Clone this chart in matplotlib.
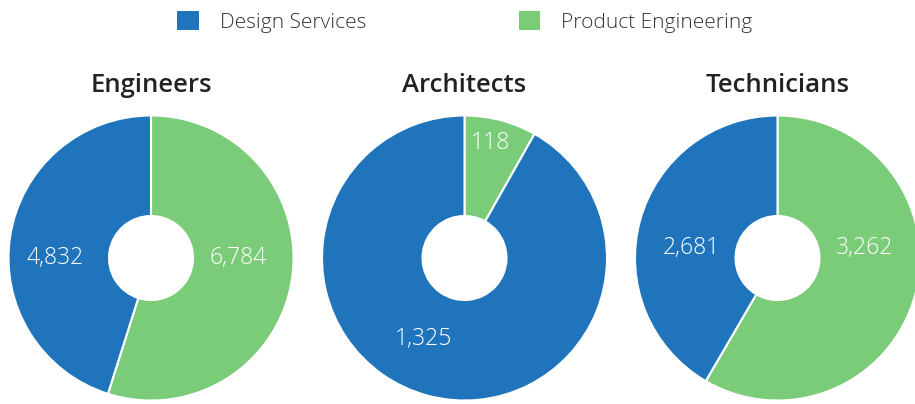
import matplotlib.pyplot as plt

groups = ['Engineers', 'Architects', 'Technicians']
series = ['Product Engineering', 'Design Services']
product_eng = [6784, 118, 3262]
design_svc = [4832, 1325, 2681]
# the arcs in the source picture don't follow the printed numbers for the
# two outer charts (they look swapped), so slice sizes are kept separately
arc_product = [3262, 118, 6784]
arc_design = [2681, 1325, 4832]

colors = ['#7BCC78', '#1F74BC']

W, H = 915, 404
fig = plt.figure(figsize=(W / 100, H / 100), dpi=100)
ax = fig.add_axes([0, 0, 1, 1])

centers_x = [151, 464.5, 777.5]
cy = H - 258
radius = 142.5
hole = 42

# label offsets (px from centre, y down)
label_pos = [[(87, 0), (-96, 0)], [(26, -115), (-41, 81)], [(87, -10), (-86, -10)]]

wedges_all = []
for i, g in enumerate(groups):
    wedges, _ = ax.pie([arc_product[i], arc_design[i]], colors=colors, startangle=90,
                       counterclock=False, center=(centers_x[i], cy), radius=radius,
                       wedgeprops=dict(width=radius - hole, edgecolor='white', linewidth=1.5))
    wedges_all.append(wedges)
    texts = [f'{product_eng[i]:,}', f'{design_svc[i]:,}']
    for j in range(2):
        dx, dy = label_pos[i][j]
        ax.text(centers_x[i] + dx, cy - dy, texts[j], color='white',
                fontsize=16.5, fontfamily='Open Sans', fontweight=300,
                ha='center', va='center')
    ax.text(centers_x[i], H - 85, g, fontsize=18.5, fontweight=600, fontfamily='Open Sans',
            color='#222222', ha='center', va='center')

ax.set_xlim(0, W)
ax.set_ylim(0, H)
ax.set_aspect('equal')
ax.axis('off')

leg = ax.legend([wedges_all[0][1], wedges_all[0][0]], [series[1], series[0]],
                loc='center', bbox_to_anchor=(465 / W, 1 - 22 / H), ncol=2, frameon=False,
                prop={'family': 'Open Sans', 'size': 15, 'weight': 300},
                handlelength=1.05, handleheight=1.05,
                handletextpad=1.0, columnspacing=7.3, labelcolor='#333333')
for h in leg.legend_handles:
    h.set_edgecolor('none')

fig.savefig('out.png', dpi=100)
